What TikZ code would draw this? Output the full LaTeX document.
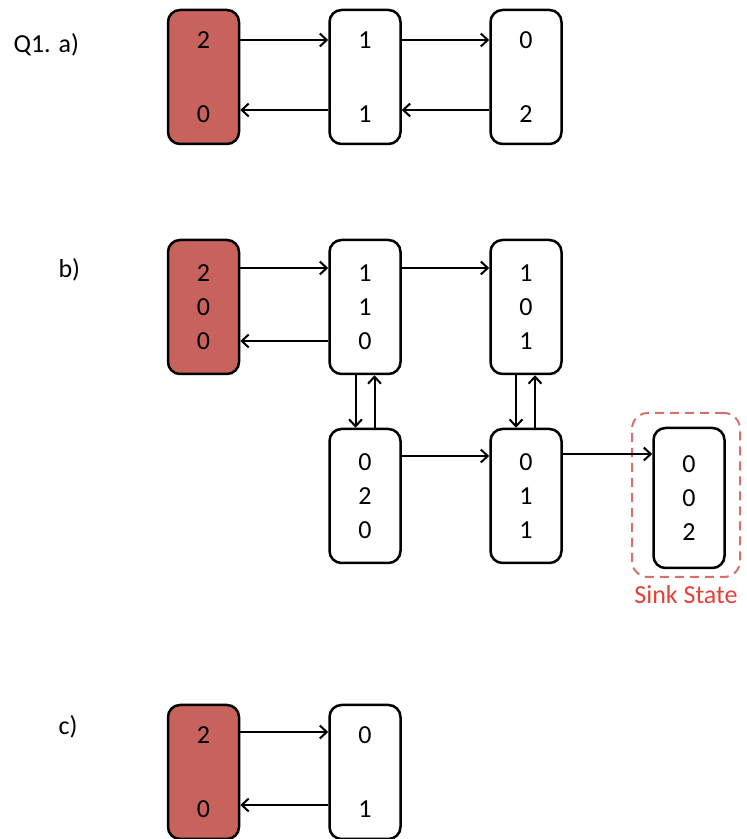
\documentclass[tikz,border=0pt]{standalone}
\usepackage{fontspec}
\setmainfont{Carlito}
\usetikzlibrary{arrows.meta,positioning}
\definecolor{startred}{RGB}{200,98,92}
\definecolor{sinkred}{RGB}{226,66,58}
\definecolor{dashred}{RGB}{214,112,108}
\tikzset{
  state/.style={draw, line width=2.5pt, rounded corners=12pt, minimum width=71pt,
    minimum height=134pt, align=center, inner sep=0pt, font=\fontsize{26}{34}\selectfont},
  start/.style={state, fill=startred},
  arr/.style={line width=2pt, -{Straight Barb[length=7pt,width=13pt,line width=2pt]}},
  qlabel/.style={anchor=west, font=\fontsize{26}{30}\selectfont}
}

\begin{document}
\begin{tikzpicture}[x=1pt,y=1pt]
  %%%%% START %%%%%
  \useasboundingbox (0,0) rectangle (747,839);

  % a)
  \node[qlabel] (qa) at (10,794) {Q1. a)};
  \node[start] (a0) at (203.5,762) {2\\[40pt]0};
  \node[state] (a1) at (365,762) {1\\[40pt]1};
  \node[state] (a2) at (526,762) {0\\[40pt]2};
  \draw[arr] ([yshift=37pt]a0.east) -- ([yshift=37pt]a1.west);
  \draw[arr] ([yshift=37pt]a1.east) -- ([yshift=37pt]a2.west);
  \draw[arr] ([yshift=-33pt]a1.west) -- ([yshift=-33pt]a0.east);
  \draw[arr] ([yshift=-33pt]a2.west) -- ([yshift=-33pt]a1.east);

  % b)
  \node[qlabel] (qb) at (55,569) {b)};
  \node[start] (b0) at (203.5,532) {2\\0\\0};
  \node[state] (b1) at (365,532) {1\\1\\0};
  \node[state] (b2) at (526,532) {1\\0\\1};
  \node[state] (b3) at (365,343) {0\\2\\0};
  \node[state] (b4) at (526,343) {0\\1\\1};
  \node[state, minimum height=140pt] (sink) at (689,341) {0\\0\\2};
  \node[draw=dashred, line width=2pt, dash pattern=on 9pt off 6pt, rounded corners=16pt,
    minimum width=108pt, minimum height=164pt] (sinkzone) at (686,344) {};
  \node[text=sinkred, font=\fontsize{26}{30}\selectfont, below=4pt of sinkzone] (sinklabel) {Sink State};

  \draw[arr] ([yshift=39pt]b0.east) -- ([yshift=39pt]b1.west);
  \draw[arr] ([yshift=39pt]b1.east) -- ([yshift=39pt]b2.west);
  \draw[arr] ([yshift=-34pt]b1.west) -- ([yshift=-34pt]b0.east);
  \draw[arr] ([yshift=40pt]b3.east) -- ([yshift=40pt]b4.west);
  \draw[arr] ([yshift=42pt]b4.east) -- ([yshift=44pt]sink.west);
  \draw[arr] ([xshift=-9.5pt]b1.south) -- ([xshift=-9.5pt]b3.north);
  \draw[arr] ([xshift=9.5pt]b3.north) -- ([xshift=9.5pt]b1.south);
  \draw[arr] ([xshift=-10pt]b2.south) -- ([xshift=-10pt]b4.north);
  \draw[arr] ([xshift=9pt]b4.north) -- ([xshift=9pt]b2.south);

  % c)
  \node[qlabel] (qc) at (55,112) {c)};
  \node[start] (c0) at (203.5,67) {2\\[40pt]0};
  \node[state] (c1) at (365,67) {0\\[40pt]1};
  \draw[arr] ([yshift=40pt]c0.east) -- ([yshift=40pt]c1.west);
  \draw[arr] ([yshift=-33pt]c1.west) -- ([yshift=-33pt]c0.east);
  %%%%% END %%%%%
\end{tikzpicture}
\end{document}
